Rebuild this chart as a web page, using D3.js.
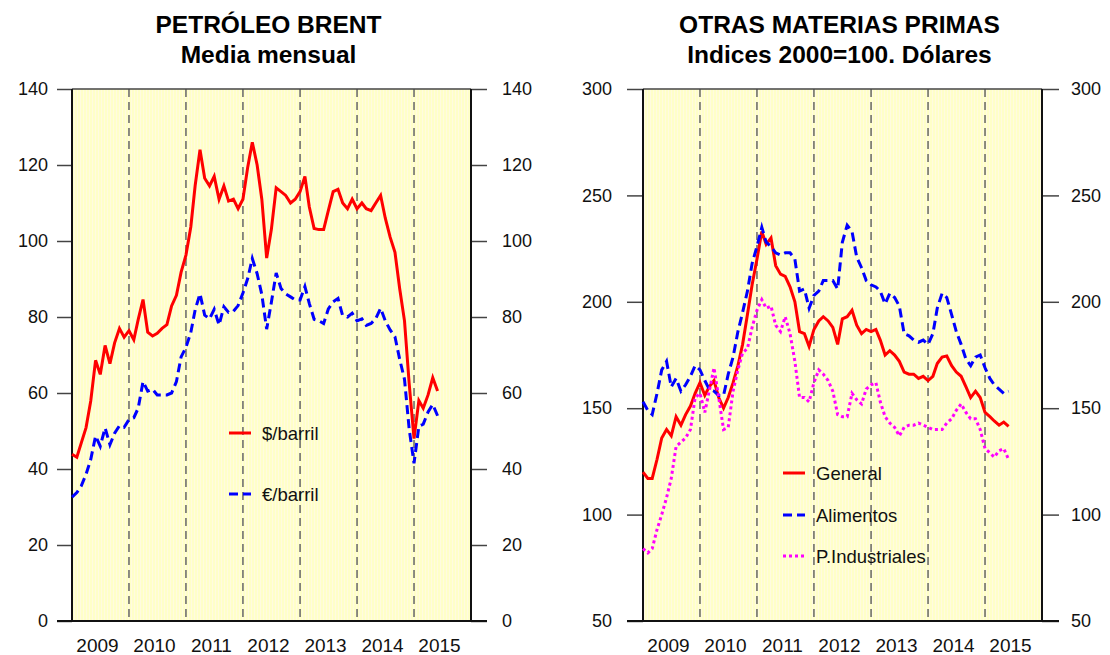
<!DOCTYPE html>
<html>
<head>
<meta charset="utf-8">
<script src="https://cdn.jsdelivr.net/npm/d3@7"></script>
<style>
  html, body { margin: 0; padding: 0; background: #ffffff; }
  svg { display: block; font-family: "Liberation Sans", Arial, Helvetica, sans-serif; }
</style>
</head>
<body>
<svg id="chart" width="1110" height="655"></svg>
<script>
// ---------------- DATA ----------------
const years = ["2009", "2010", "2011", "2012", "2013", "2014", "2015"];
// monthly series, Jan 2009 .. Jun 2015 (78 months)
const brentUSD = [
  43.9, 43.1, 46.8, 50.9, 57.9, 68.6, 64.9, 72.5, 67.7, 73.2, 77.0, 74.7,
  76.4, 74.0, 79.3, 84.6, 76.0, 75.0, 75.7, 77.0, 78.0, 82.9, 85.7, 91.8,
  96.3, 103.7, 114.6, 124.0, 116.5, 114.5, 117.0, 111.0, 114.5, 110.5, 111.0, 108.5,
  111.0, 119.5, 126.0, 120.0, 111.0, 95.5, 103.0, 114.0, 113.0, 112.0, 110.0, 111.0,
  113.0, 117.0, 109.0, 103.3, 103.0, 103.0, 108.0, 113.0, 113.6, 110.0, 108.5, 111.0,
  108.5, 110.0, 108.5, 108.0, 110.0, 112.0, 106.0, 101.0, 97.0, 87.5, 79.0, 62.5,
  48.0, 58.0, 56.0, 59.5, 64.0, 60.5
];
const brentEUR = [
  32.6, 33.8, 35.5, 38.6, 42.5, 48.7, 46.0, 50.8, 46.4, 49.4, 51.4, 51.0,
  53.0, 53.5, 56.0, 63.0, 60.5, 61.0, 59.5, 59.5, 59.5, 60.0, 63.0, 69.5,
  72.0, 75.9, 81.9, 86.1, 80.5, 79.5, 82.0, 77.9, 82.7, 81.2, 81.5, 83.0,
  86.3, 90.2, 95.4, 91.4, 85.9, 76.8, 83.8, 91.6, 87.5, 86.1, 85.3, 84.5,
  84.5, 88.0, 83.6, 79.4, 79.0, 78.3, 82.1, 84.0, 84.9, 80.3, 80.0, 81.0,
  79.0, 79.5, 77.8, 78.3, 79.6, 82.3, 79.0, 76.6, 74.8, 68.9, 63.6, 50.5,
  41.5, 51.2, 51.8, 55.0, 57.0, 54.0
];
const general = [
  120, 117, 117, 126, 136, 140, 137, 146, 142, 147, 151, 157,
  162, 156, 160, 163, 155, 150, 155, 162, 170, 180, 194, 208,
  220, 233, 227, 230, 217, 213, 212, 207, 200, 186, 185, 179,
  187, 191, 193, 191, 188, 180, 192, 193, 196, 189, 185, 187,
  186, 187, 182, 175, 177, 175, 172, 167, 166, 166, 164, 165,
  163, 165, 171, 174, 174.5, 170, 167, 165, 160, 155, 158, 155,
  148, 146, 144, 142, 143.5, 141.5
];
const alimentos = [
  153, 149, 147, 157, 168, 172, 160, 164, 158, 161, 165, 170,
  168, 163, 159, 158, 156, 156, 166, 174, 186, 195, 205, 218,
  226, 235, 228, 226, 223, 222, 223, 223, 220, 205, 206, 197,
  203, 205, 210, 210, 210, 206, 228, 236, 233, 221, 216, 210,
  208, 207, 205, 199, 204, 202, 198, 185, 184, 182, 181, 182,
  180, 185, 197, 204, 202, 194, 186, 180, 173, 170, 174, 175,
  169, 164, 161, 159, 157, 158
];
const industriales = [
  84, 82, 84, 93, 100, 108, 117, 132, 134, 136, 140, 155,
  157, 148, 158, 169, 155, 140, 141, 158, 168, 176, 178, 188,
  196, 201, 197, 198, 189, 186, 193, 185, 172, 155, 155, 153,
  162, 168, 166, 163, 158, 147, 146, 146, 157, 154, 152, 159,
  161, 162, 153, 146, 143, 141, 137, 141, 142, 142, 143, 142,
  141, 140, 140, 140, 143, 145, 149, 152, 148, 145, 145, 140,
  131, 129, 127, 130, 131, 126
];
const leftTicks = [0, 20, 40, 60, 80, 100, 120, 140];
const rightTicks = [50, 100, 150, 200, 250, 300];
const leftLegend = ["$/barril", "€/barril"];
const rightLegend = ["General", "Alimentos", "P.Industriales"];

// ---------------- DRAW ----------------
const svg = d3.select("#chart");
const months = d3.timeMonth.range(new Date(2009, 0, 1), new Date(2015, 6, 1));
const yearStarts = years.map(y => new Date(+y, 0, 1));

const styles = {
  red:     { color: "#ff0000", dash: null },
  blue:    { color: "#0000ff", dash: "9,5" },
  magenta: { color: "#ff00ff", dash: "3,3" }
};

function panel(cfg) {
  const g = svg.append("g");
  const x = d3.scaleTime()
    .domain([new Date(2009, 0, 1), new Date(2016, 0, 1)])
    .range([cfg.x0, cfg.x1]);
  const y = d3.scaleLinear().domain(cfg.domain).range([cfg.yB, cfg.yT]);

  // background
  g.append("rect")
    .attr("x", cfg.x0).attr("y", cfg.yT)
    .attr("width", cfg.x1 - cfg.x0).attr("height", cfg.yB - cfg.yT)
    .attr("fill", "url(#stripes)");

  // year separators
  g.selectAll(".sep").data(yearStarts.slice(1)).enter().append("line")
    .attr("x1", d => x(d)).attr("x2", d => x(d))
    .attr("y1", cfg.yT).attr("y2", cfg.yB)
    .attr("stroke", "#666").attr("stroke-width", 1.5)
    .attr("stroke-dasharray", "8,5");

  // axes
  const axL = d3.axisLeft(y).tickValues(cfg.ticks).tickSize(cfg.tickL).tickPadding(cfg.padL);
  const axR = d3.axisRight(y).tickValues(cfg.ticks).tickSize(cfg.tickR).tickPadding(cfg.padR);
  const gl = g.append("g").attr("transform", `translate(${cfg.x0},0)`).call(axL);
  const gr = g.append("g").attr("transform", `translate(${cfg.x1},0)`).call(axR);
  [gl, gr].forEach(a => {
    a.select(".domain").remove();
    a.selectAll(".tick line").attr("stroke", "#444").attr("stroke-width", 1.5);
    a.selectAll(".tick text").attr("font-size", 18).attr("fill", "#111")
      .attr("font-family", "Liberation Sans, Arial, sans-serif");
  });

  // frame
  g.append("line").attr("x1", cfg.x0).attr("x2", cfg.x1).attr("y1", cfg.yT).attr("y2", cfg.yT)
    .attr("stroke", "#444").attr("stroke-width", 1.5);
  g.append("line").attr("x1", cfg.x0 - cfg.tickL).attr("x2", cfg.x1 + cfg.tickR)
    .attr("y1", cfg.yB).attr("y2", cfg.yB).attr("stroke", "#111").attr("stroke-width", 2);
  [cfg.x0, cfg.x1].forEach(xx => {
    g.append("line").attr("x1", xx).attr("x2", xx).attr("y1", cfg.yT).attr("y2", cfg.yB)
      .attr("stroke", "#111").attr("stroke-width", 2);
  });

  // year labels
  g.selectAll(".yl").data(years).enter().append("text")
    .attr("x", d => (x(new Date(+d, 0, 1)) + x(new Date(+d + 1, 0, 1))) / 2 - 3)
    .attr("y", 652)
    .attr("text-anchor", "middle").attr("font-size", 19).attr("fill", "#111")
    .text(d => d);

  // title
  const cx = (cfg.x0 + cfg.x1) / 2 - 3;
  cfg.title.forEach((t, i) => {
    g.append("text").attr("x", cx).attr("y", 33 + i * 30)
      .attr("text-anchor", "middle").attr("font-size", 24.5).attr("font-weight", "bold")
      .attr("fill", "#000").text(t);
  });

  // series
  const line = d3.line().x((d, i) => x(months[i])).y(d => y(d));
  cfg.series.forEach(s => {
    const st = styles[s.style];
    g.append("path").datum(s.values)
      .attr("d", line).attr("fill", "none")
      .attr("stroke", st.color).attr("stroke-width", 3)
      .attr("stroke-linejoin", "miter")
      .attr("stroke-dasharray", st.dash);
  });

  // legend
  cfg.series.forEach((s, i) => {
    const st = styles[s.style];
    const ly = cfg.legY[i];
    g.append("line").attr("x1", cfg.legX).attr("x2", cfg.legX + 22)
      .attr("y1", ly).attr("y2", ly)
      .attr("stroke", st.color).attr("stroke-width", 3)
      .attr("stroke-dasharray", st.dash);
    g.append("text").attr("x", cfg.legX + 33).attr("y", ly).attr("dy", "0.36em")
      .attr("font-size", 18.5).attr("fill", "#111").text(s.name);
  });
}

// stripe pattern for plot background
const defs = svg.append("defs");
const pat = defs.append("pattern").attr("id", "stripes")
  .attr("patternUnits", "userSpaceOnUse").attr("width", 3).attr("height", 10);
pat.append("rect").attr("width", 3).attr("height", 10).attr("fill", "#ffffc8");
pat.append("rect").attr("x", 2).attr("width", 1).attr("height", 10).attr("fill", "#fffbe0");

panel({
  x0: 72, x1: 471, yT: 89, yB: 621,
  domain: [0, 140], ticks: leftTicks,
  tickL: 15, tickR: 16, padL: 9, padR: 15,
  title: ["PETRÓLEO BRENT", "Media mensual"],
  series: [
    { name: leftLegend[0], values: brentUSD, style: "red" },
    { name: leftLegend[1], values: brentEUR, style: "blue" }
  ],
  legX: 229, legY: [433, 494]
});

panel({
  x0: 643, x1: 1042, yT: 89, yB: 621,
  domain: [50, 300], ticks: rightTicks,
  tickL: 16, tickR: 17, padL: 15, padR: 12,
  title: ["OTRAS MATERIAS PRIMAS", "Indices 2000=100. Dólares"],
  series: [
    { name: rightLegend[0], values: general, style: "red" },
    { name: rightLegend[1], values: alimentos, style: "blue" },
    { name: rightLegend[2], values: industriales, style: "magenta" }
  ],
  legX: 783, legY: [473, 515, 556]
});
</script>
</body>
</html>
